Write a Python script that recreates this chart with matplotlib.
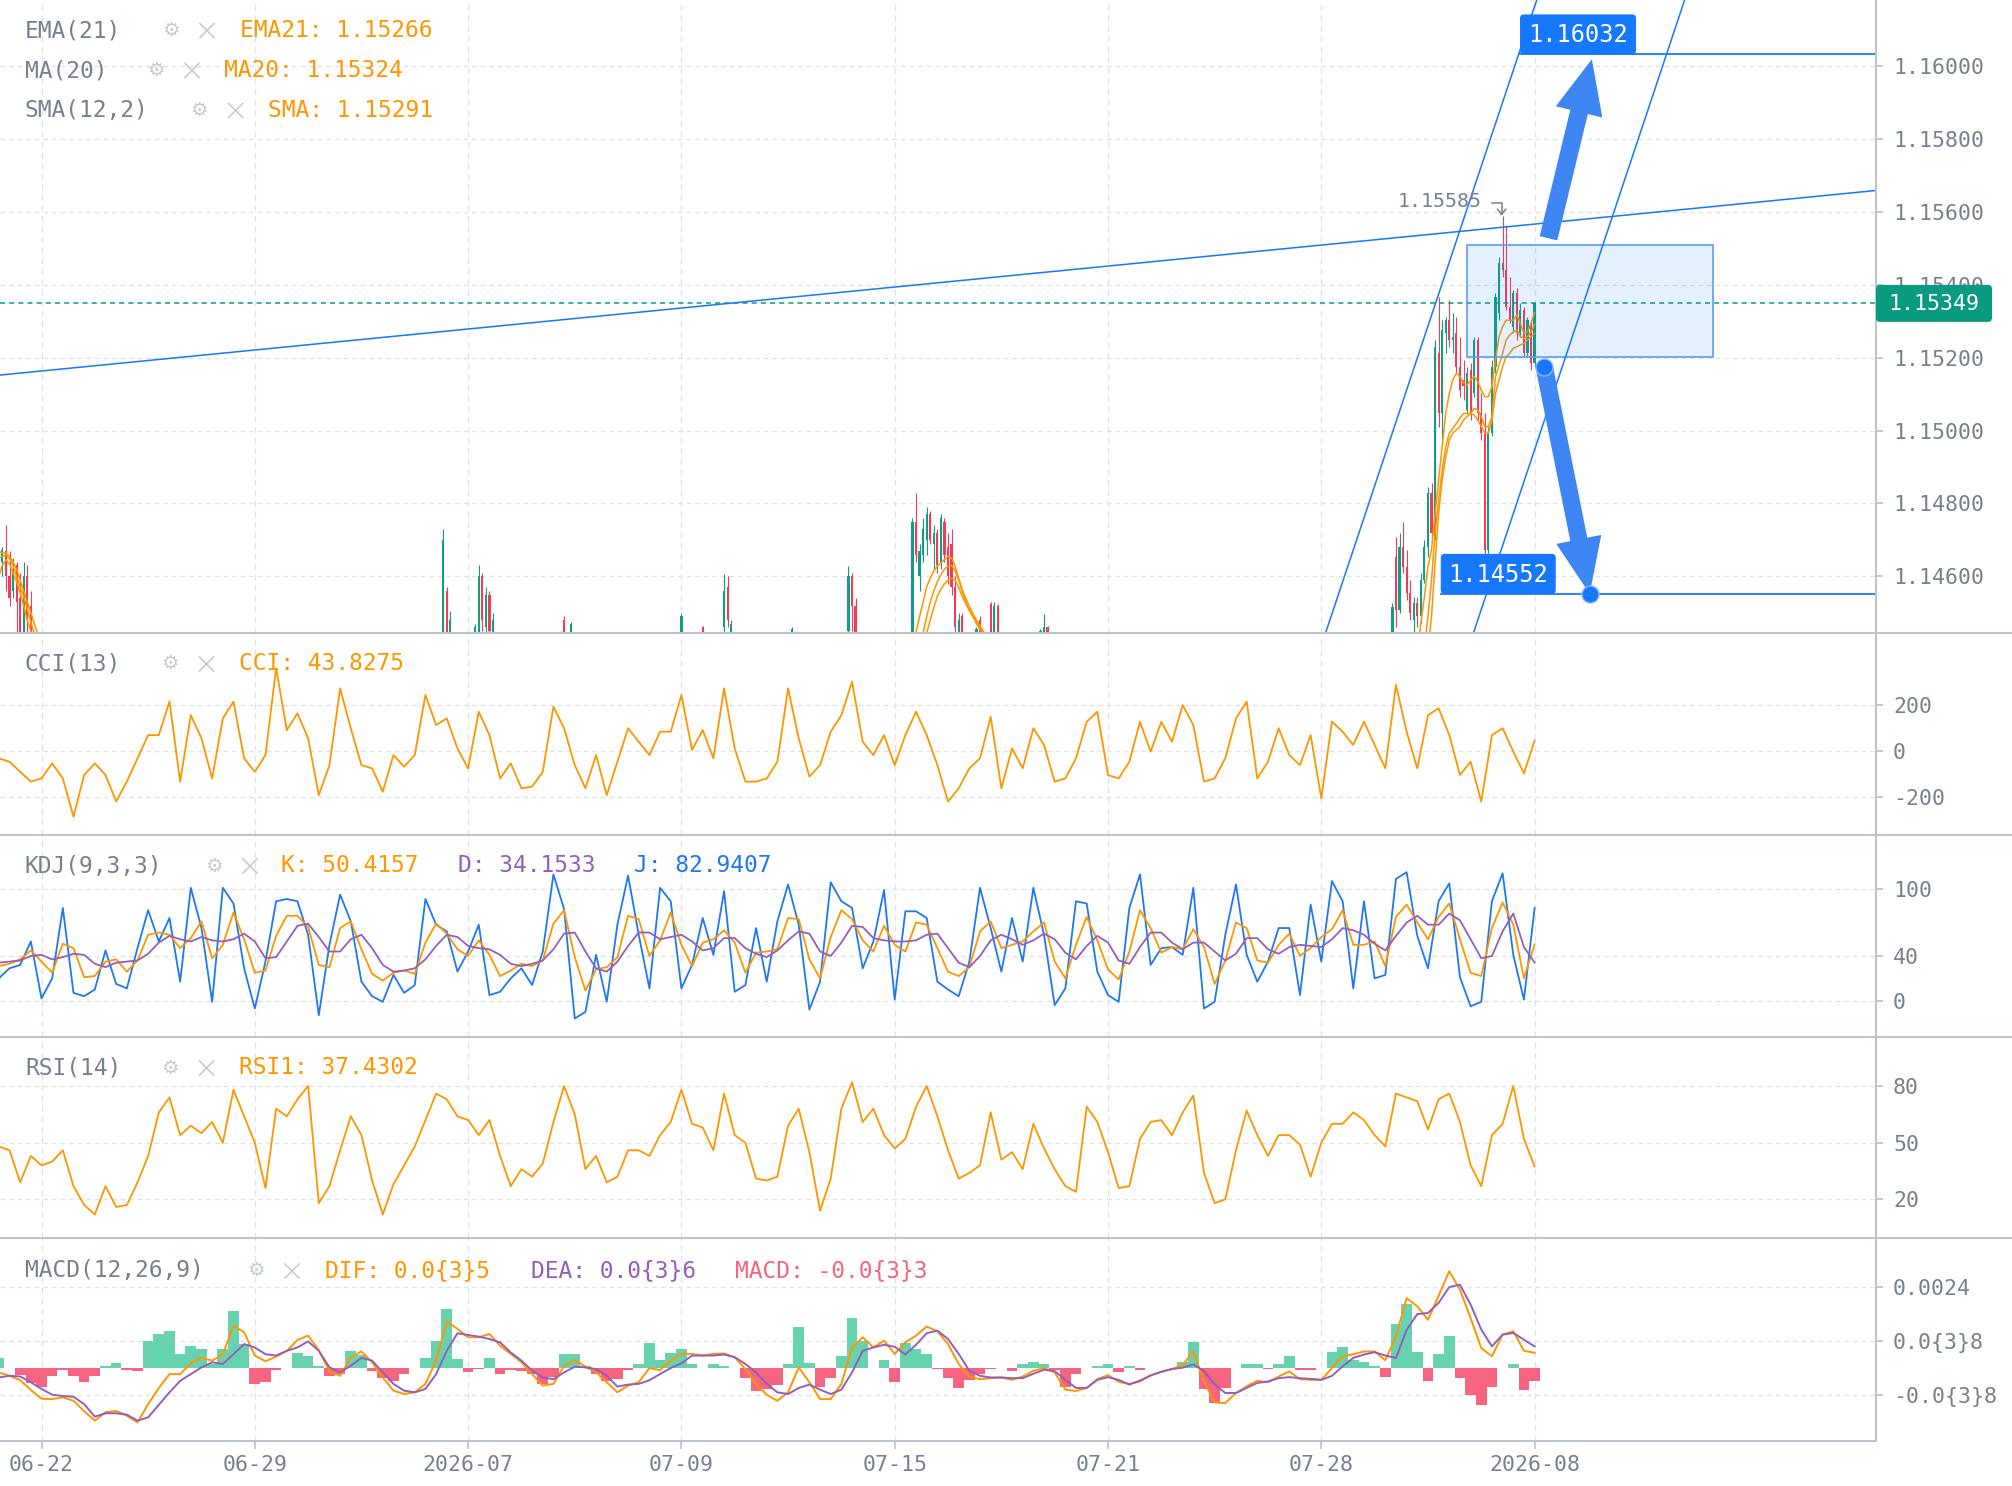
import numpy as np
import matplotlib
matplotlib.use("Agg")
import matplotlib.pyplot as plt
from matplotlib.patches import Rectangle, FancyBboxPatch, FancyArrowPatch, ArrowStyle
from matplotlib.lines import Line2D
from matplotlib.transforms import Affine2D

# ======================= DATA =======================
TICK_INDEX = [12, 72, 132, 192, 252, 312, 372, 432]
TICK_LABELS = ["06-22", "06-29", "2026-07", "07-09", "07-15", "07-21", "07-28", "2026-08"]

PRICE_TICKS = [1.146, 1.148, 1.150, 1.152, 1.154, 1.156, 1.158, 1.160]
CCI_TICKS, CCI_TICK_LABELS = [-200, 0, 200], ["-200", "0", "200"]
KDJ_TICKS, KDJ_TICK_LABELS = [0, 40, 100], ["0", "40", "100"]
RSI_TICKS, RSI_TICK_LABELS = [20, 50, 80], ["20", "50", "80"]
MACD_TICKS, MACD_TICK_LABELS = [-0.0008, 0.0008, 0.0024], ["-0.0{3}8", "0.0{3}8", "0.0024"]

# indicator readings, one value every 3rd bar (bar 0 .. bar 432)
SAMPLE_STEP = 3
CCI = [-33, -48, -92, -135, -121, -55, -121, -288, -106, -55,
       -106, -222, -135, -33, 68, 68, 215, -135, 155, 54,
       -121, 141, 214, -33, -92, -19, 360, 90, 163, 54,
       -194, -63, 272, 98, -63, -77, -179, -19, -70, -19,
       243, 112, 141, 10, -77, 170, 68, -121, -55, -164,
       -157, -92, 192, 98, -63, -164, -19, -194, -48, 98,
       39, -19, 83, 83, 243, 3, 90, -33, 272, 10,
       -135, -135, -121, -48,
       272, 54, -113, -63, 83, 155, 301, 39, -19, 68,
       -63, 68, 170, 68, -63, -222, -164, -77, -33, 148,
       -164, 10, -77, 98, 25, -135, -121, -33, 126, 170,
       -106, -121, -48, 126, -4, 126, 39, 199, 112, -135,
       -121, -33, 141, 214, -121, -48, 98, -19, -63, 68,
       -208, 127, 83, 25, 127, 25, -77, 287, 83, -77,
       155, 185, 68, -106, -48, -222, 68, 98, -4, -99,
       43.83]
K_VAL = [31, 33, 37, 45, 35, 25, 51, 47, 21, 22,
         35, 37, 26, 36, 59, 61, 59, 47, 56, 71,
         38, 50, 79, 55, 25, 27, 58, 76, 76, 66,
         32, 30, 65, 71, 46, 24, 18, 25, 27, 24,
         52, 69, 60, 46, 40, 54, 41, 22, 27, 33,
         31, 36, 69, 81, 39, 9, 28, 30, 39, 76,
         73, 40, 54, 79, 50, 31, 52, 55, 63, 52,
         25, 43, 44, 46,
         74, 73, 37, 20, 57, 81, 73, 54, 44, 67,
         50, 44, 70, 68, 47, 26, 22, 30, 62, 71,
         47, 50, 53, 62, 70, 35, 20, 50, 75, 54,
         28, 19, 44, 81, 65, 43, 48, 46, 64, 48,
         15, 36, 70, 65, 36, 34, 50, 60, 40, 47,
         57, 64, 81, 50, 50, 53, 31,
         75, 86, 70, 55, 75, 87, 55, 25, 22, 65, 88, 68, 20, 50.42]
D_VAL = [34, 35, 36, 40, 41, 37, 39, 42, 41, 33,
         30, 34, 35, 36, 42, 52, 58, 55, 53, 57,
         54, 53, 55, 60, 53, 38, 39, 53, 67, 69,
         57, 44, 44, 55, 59, 47, 32, 26, 27, 29,
         37, 49, 59, 57, 49, 47, 46, 41, 33, 31,
         33, 36, 46, 60, 61, 44, 29, 26, 35, 49,
         61, 61, 55, 57, 59, 53, 45, 47, 56, 56,
         47, 42, 39, 45,
         54, 62, 60, 44, 40, 52, 67, 66, 56, 54,
         53, 53, 54, 59, 60, 47, 34, 30, 40, 54,
         59, 55, 50, 54, 60, 55, 43, 37, 49, 58,
         52, 36, 33, 48, 61, 61, 52, 46, 52, 52,
         44, 36, 42, 56, 56, 46, 42, 48, 50, 49,
         48, 55, 65, 63, 59, 51, 45,
         58, 70, 76, 68, 68, 78, 72, 55, 38, 40, 62, 78, 48, 34.15]
J_VAL = [20, 29, 32, 53, 2, 20, 83, 7, 4, 10,
         45, 15, 11, 47, 81, 53, 74, 17, 101, 65,
         -1, 101, 87, 29, -7, 35, 89, 91, 89, 59,
         -13, 50, 95, 71, 17, 4, -1, 23, 7, 14,
         91, 68, 62, 26, 44, 68, 5, 8, 20, 29,
         14, 44, 113, 82, -16, -10, 41, -1, 68, 112,
         59, 11, 101, 89, 11, 32, 74, 41, 98, 8,
         14, 65, 17, 71,
         104, 68, -8, 17, 106, 89, 83, 29, 53, 99,
         1, 80, 80, 74, 17, 10, 4, 35, 101, 65,
         26, 74, 35, 101, 59, -4, 11, 89, 87, 26,
         5, -1, 83, 113, 32, 47, 48, 41, 101, -7,
         -1, 59, 104, 41, 17, 35, 65, 65, 5, 86,
         35, 107, 89, 11, 89, 20, 23,
         109, 115, 58, 29, 89, 105, 21, -5, -1, 89, 114, 41, 1, 82.94]
RSI = [48, 46, 29, 43, 38, 40, 46, 27, 17, 12,
       27, 16, 17, 29, 43, 66, 74, 54, 59, 55,
       61, 50, 78, 64, 50, 26, 68, 64, 73, 80,
       18, 27, 46, 64, 54, 30, 12, 28, 38, 48,
       62, 76, 73, 64, 62, 54, 62, 43, 27, 36,
       32, 39, 61, 80, 65, 36, 43, 29, 32, 46,
       46, 43, 54, 61, 78, 60, 58, 46, 76, 54,
       50, 31, 30, 32,
       59, 68, 45, 14, 31, 68, 82, 61, 68, 54,
       47, 52, 69, 80, 64, 46, 31, 34, 38, 66,
       41, 45, 36, 60, 47, 36, 27, 24, 69, 61,
       45, 26, 27, 52, 61, 62, 54, 66, 75, 34,
       18, 20, 46, 67, 54, 43, 54, 54, 49, 32,
       50, 60, 60, 66, 62, 54, 48, 76, 74, 72,
       57, 73, 76, 61, 38, 27, 54, 60, 80, 52,
       37.43]
MACD_UNIT = 1e-4   # DIF / DEA below are in units of 0.0001
DIF = [-1.4, -2.4, -3.7, -6.6, -9.2, -9.3, -8.8, -9.8, -12.9, -15.7,
       -13.2, -12.8, -14.2, -16.2, -10.8, -6.0, -1.9, -1.9, 1.3, 2.9,
       2.1, 3.9, 12.4, 10.5, 3.6, 1.9, 3.3, 5.0, 8.2, 9.5,
       5.2, -1.1, -2.4, 3.1, 4.8, 1.6, -2.9, -6.8, -7.8, -7.3,
       -4.8, 2.1, 13.7, 11.5, 9.0, 9.0, 10.0, 6.5, 4.1, 1.6,
       -1.9, -5.3, -4.8, 0.6, 2.3, 0.3, -1.4, -4.3, -7.3, -5.3,
       -4.3, -0.1, -0.7, 2.1, 4.1, 4.1, 3.6, 4.1, 4.2, 3.1,
       -0.4, -4.8, -8.0, -9.8, -7.3, 0.1, -4.3, -9.3, -9.3, -4.8,
       6.0, 9.0, 6.0, 8.0, 4.1, 7.5, 9.5, 12.2, 10.8, 7.0,
       1.1, -2.7, -3.4, -3.1, -2.9,
       -3.6, -2.6, -0.9, -0.1, -1.4, -6.5, -6.9, -6.0, -3.4, -2.2,
       -4.2, -4.8, -4.1, -2.3, -1.2, -0.4, 0.8, 4.8, -4.1, -10.3,
       -10.5, -7.5, -5.5, -3.9, -4.3, -2.6, -1.1, -3.4, -3.6, -3.6,
       -0.1, 3.4, 4.0, 4.8, 4.8, 2.2, 9.3, 20.6, 18.2, 14.2,
       21.3, 28.6, 23.1, 14.7, 5.8, 3.4, 9.8, 10.8, 5.0, 4.4]
DEA = [-2.9, -2.4, -2.6, -4.3, -6.3, -8.0, -8.4, -8.6, -10.8, -14.5,
       -13.5, -13.5, -13.9, -15.7, -14.7, -11.0, -7.3, -3.9, -1.9, 0.1,
       1.6, 1.1, 4.0, 7.0, 6.0, 4.0, 3.6, 5.0, 6.0, 7.8,
       5.0, 0.1, -1.4, 0.6, 2.9, 2.1, -1.4, -4.8, -6.8, -7.3,
       -6.3, -1.9, 5.0, 10.2, 9.7, 9.2, 8.5, 7.5, 4.5, 2.1,
       -0.9, -2.9, -3.4, -1.4, 0.3, 0.1, -0.4, -2.4, -5.6, -5.0,
       -4.8, -3.7, -1.9, -0.1, 1.3, 3.6, 3.6, 3.6, 3.9, 3.1,
       1.1, -1.4, -4.8, -7.3, -7.8, -6.0, -5.0, -6.5, -7.8, -6.5,
       -1.4, 5.0, 6.0, 6.8, 6.2, 3.9, 6.8, 10.2, 11.0, 8.5,
       4.1, -0.9, -2.4, -2.9, -2.9,
       -3.1, -3.1, -1.8, -0.6, -1.0, -3.6, -6.0, -6.0, -3.6, -2.8,
       -3.6, -5.0, -3.8, -2.3, -1.2, -0.4, 0.0, 1.0, -1.0, -5.0,
       -7.5, -7.5, -6.0, -4.5, -4.1, -3.1, -2.8, -3.1, -3.3, -3.6,
       -2.4, 0.4, 2.9, 3.9, 4.6, 3.6, 2.9, 11.2, 15.9, 16.2,
       19.2, 23.9, 24.6, 18.7, 11.3, 6.3, 9.8, 10.3, 8.3, 6.3]

# visible candles (all others sit below the visible price range)
CANDLE_INDEX = [0, 1, 2, 3, 4, 5, 6, 7, 8, 9, 10,
                125, 126, 127, 134, 135, 136, 137, 138, 139, 158, 159, 161,
                192, 198, 204, 205, 206, 223, 239, 240, 241,
                257, 258, 259, 260, 261, 262, 263, 264, 265, 266, 267, 268, 269, 270, 271,
                275, 276, 279, 280, 281, 293, 294, 295,
                392, 393, 394, 395, 396, 397, 398, 399, 400, 401, 402, 403, 404, 405, 406, 407,
                408, 409, 410, 411, 412, 413, 414, 415, 416, 417, 418, 419, 420, 421, 422, 423,
                424, 425, 426, 427, 428, 429, 430, 431, 432]
OPEN = [1.14672, 1.14640, 1.14670, 1.14600, 1.14560, 1.14630, 1.14540, 1.14420, 1.14600, 1.14520, 1.14420,
        1.14400, 1.14560, 1.14420, 1.14410, 1.14440, 1.14600, 1.14460, 1.14550, 1.14420, 1.14440, 1.14480, 1.14440,
        1.14440, 1.14460, 1.14460, 1.14570, 1.14440, 1.14440, 1.14450, 1.14600, 1.14520,
        1.14440, 1.14750, 1.14600, 1.14660, 1.14700, 1.14770, 1.14690, 1.14720, 1.14640, 1.14750, 1.14680, 1.14690, 1.14570, 1.14430, 1.14490,
        1.14440, 1.14480, 1.14524, 1.14440, 1.14520, 1.14440, 1.14445, 1.14460,
        1.14389, 1.14654, 1.14508, 1.14682, 1.14627, 1.14554, 1.14480, 1.14526, 1.14490, 1.14590, 1.14682, 1.14828, 1.14709, 1.15212, 1.15047, 1.15267,
        1.15303, 1.15249, 1.15267, 1.15175, 1.15139, 1.15057, 1.15166, 1.15102, 1.15249, 1.15047, 1.14993, 1.14672, 1.14993, 1.15175, 1.15322, 1.15459,
        1.15441, 1.15340, 1.15285, 1.15377, 1.15267, 1.15331, 1.15212, 1.15294, 1.15185]
HIGH = [1.14690, 1.14680, 1.14740, 1.14670, 1.14650, 1.14640, 1.14610, 1.14640, 1.14630, 1.14560, 1.14450,
        1.14730, 1.14570, 1.14505, 1.14470, 1.14630, 1.14610, 1.14570, 1.14560, 1.14500, 1.14450, 1.14490, 1.14475,
        1.14500, 1.14465, 1.14607, 1.14600, 1.14480, 1.14460, 1.14629, 1.14610, 1.14540,
        1.14760, 1.14829, 1.14690, 1.14760, 1.14790, 1.14780, 1.14740, 1.14730, 1.14770, 1.14760, 1.14720, 1.14730, 1.14600, 1.14500, 1.14500,
        1.14460, 1.14490, 1.14530, 1.14530, 1.14525, 1.14455, 1.14497, 1.14465,
        1.14526, 1.14709, 1.14718, 1.14750, 1.14673, 1.14590, 1.14544, 1.14544, 1.14608, 1.14700, 1.14846, 1.14855, 1.15249, 1.15367, 1.15303, 1.15313,
        1.15358, 1.15322, 1.15313, 1.15258, 1.15194, 1.15175, 1.15185, 1.15258, 1.15258, 1.15102, 1.15047, 1.15011, 1.15194, 1.15378, 1.15477, 1.15589,
        1.15560, 1.15422, 1.15386, 1.15390, 1.15349, 1.15340, 1.15313, 1.15303, 1.15349]
LOW = [1.14580, 1.14600, 1.14560, 1.14520, 1.14540, 1.14430, 1.14400, 1.14400, 1.14400, 1.14400, 1.14380,
       1.14380, 1.14400, 1.14400, 1.14400, 1.14420, 1.14450, 1.14420, 1.14430, 1.14400, 1.14420, 1.14430, 1.14430,
       1.14420, 1.14440, 1.14420, 1.14460, 1.14420, 1.14430, 1.14430, 1.14450, 1.14420,
       1.14420, 1.14640, 1.14560, 1.14640, 1.14660, 1.14690, 1.14620, 1.14610, 1.14620, 1.14640, 1.14580, 1.14550, 1.14440, 1.14420, 1.14420,
       1.14430, 1.14430, 1.14420, 1.14430, 1.14430, 1.14430, 1.14430, 1.14440,
       1.14389, 1.14462, 1.14499, 1.14608, 1.14535, 1.14480, 1.14444, 1.14462, 1.14471, 1.14581, 1.14654, 1.14691, 1.14700, 1.15011, 1.14974, 1.15212,
       1.15230, 1.15212, 1.15157, 1.15093, 1.15084, 1.15047, 1.15029, 1.15093, 1.15029, 1.14974, 1.14654, 1.14654, 1.14984, 1.15157, 1.15303, 1.15422,
       1.15331, 1.15294, 1.15267, 1.15249, 1.15258, 1.15203, 1.15203, 1.15166, 1.15175]
CLOSE = [1.14600, 1.14672, 1.14600, 1.14540, 1.14620, 1.14530, 1.14420, 1.14600, 1.14480, 1.14410, 1.14390,
         1.14700, 1.14420, 1.14480, 1.14460, 1.14600, 1.14480, 1.14550, 1.14450, 1.14480, 1.14445, 1.14440, 1.14470,
         1.14490, 1.14445, 1.14560, 1.14480, 1.14470, 1.14455, 1.14600, 1.14520, 1.14440,
         1.14750, 1.14660, 1.14670, 1.14730, 1.14770, 1.14700, 1.14720, 1.14630, 1.14760, 1.14660, 1.14600, 1.14570, 1.14460, 1.14480, 1.14440,
         1.14455, 1.14440, 1.14440, 1.14520, 1.14440, 1.14450, 1.14460, 1.14445,
         1.14517, 1.14508, 1.14682, 1.14627, 1.14554, 1.14499, 1.14526, 1.14490, 1.14590, 1.14682, 1.14828, 1.14718, 1.15230, 1.15047, 1.15276, 1.15303,
         1.15249, 1.15258, 1.15175, 1.15111, 1.15121, 1.15157, 1.15047, 1.15249, 1.15047, 1.14993, 1.14672, 1.14993, 1.15175, 1.15367, 1.15459, 1.15441,
         1.15340, 1.15303, 1.15377, 1.15267, 1.15331, 1.15212, 1.15303, 1.15185, 1.15349]

# moving averages, visible segments only: (first bar index, values)
MA20_SEGMENTS = [
    (0, [1.14668, 1.14665, 1.14665, 1.14655, 1.14640, 1.14620, 1.14590, 1.14560, 1.14530, 1.14500, 1.14470, 1.14440, 1.14410]),
    (257, [1.14400, 1.14445, 1.14490, 1.14530, 1.14572, 1.14595, 1.14615, 1.14628, 1.14637, 1.14646, 1.14655,
           1.14650, 1.14628, 1.14595, 1.14563, 1.14540, 1.14517, 1.14498, 1.14480, 1.14465, 1.14448, 1.14425]),
    (399, [1.14389, 1.14471, 1.14544, 1.14627, 1.14672, 1.14773, 1.14865, 1.14956, 1.15047, 1.15102, 1.15139,
           1.15157, 1.15148, 1.15130, 1.15125, 1.15139, 1.15148, 1.15134, 1.15111, 1.15093, 1.15093, 1.15121,
           1.15194, 1.15258, 1.15285, 1.15303, 1.15303, 1.15303, 1.15317, 1.15294, 1.15267, 1.15271, 1.15294, 1.15324]),
]
SMA_SEGMENTS = [
    (0, [1.14650, 1.14655, 1.14660, 1.14648, 1.14630, 1.14600, 1.14570, 1.14545, 1.14510, 1.14475, 1.14440, 1.14410]),
    (259, [1.14420, 1.14445, 1.14490, 1.14530, 1.14560, 1.14585, 1.14605, 1.14620, 1.14628, 1.14630,
           1.14615, 1.14590, 1.14560, 1.14530, 1.14505, 1.14490, 1.14475, 1.14460, 1.14445, 1.14430]),
    (401, [1.14407, 1.14490, 1.14590, 1.14718, 1.14810, 1.14892, 1.14956, 1.14993, 1.15006, 1.15020, 1.15034,
           1.15047, 1.15047, 1.15047, 1.15061, 1.15057, 1.15038, 1.15011, 1.15011, 1.15038, 1.15148, 1.15180,
           1.15212, 1.15249, 1.15262, 1.15271, 1.15276, 1.15258, 1.15253, 1.15258, 1.15271, 1.15291]),
]
EMA_SEGMENTS = [
    (0, [1.14600, 1.14630, 1.14645, 1.14635, 1.14610, 1.14585, 1.14555, 1.14520, 1.14480, 1.14450, 1.14420]),
    (260, [1.14420, 1.14445, 1.14480, 1.14515, 1.14545, 1.14565, 1.14580, 1.14590, 1.14595,
           1.14590, 1.14570, 1.14545, 1.14525, 1.14508, 1.14490, 1.14470, 1.14455, 1.14440]),
    (402, [1.14407, 1.14490, 1.14636, 1.14773, 1.14865, 1.14928, 1.14974, 1.14993, 1.15002, 1.15011, 1.15029,
           1.15038, 1.15047, 1.15043, 1.15029, 1.15011, 1.14993, 1.14993, 1.15029, 1.15102, 1.15139, 1.15175,
           1.15203, 1.15212, 1.15226, 1.15230, 1.15235, 1.15239, 1.15249, 1.15258, 1.15266]),
]

LAST_PRICE = 1.15349
HIGH_INDEX, HIGH_PRICE = 423, 1.15585
# drawings (bar index, price)
CHANNEL_LEFT = [(373.2, 1.144447), (432.6, 1.161813)]
CHANNEL_RIGHT = [(449.8, 1.154680), (474.2, 1.161813)]
TREND_LINE = [(388.5, 1.155248), (512.3, 1.156436)]
ZONE = (412.95, 482.2, 1.152011, 1.155092)
TARGET_UP = (427.9, 1.16032)
TARGET_DOWN = (405.6, 1.14552)
ARROW_UP = [(435.9, 1.155276), (448.1, 1.160187)]
ARROW_DOWN = [(434.7, 1.151753), (447.5, 1.14552)]

# ======================= STYLE / LAYOUT =======================
W, H, DPI = 2012, 1486, 100
AXIS_X = 1876
TEXT_C, ICON_C, GRID_C, AXIS_C = "#76808F", "#C5CBD5", "#DFE2E7", "#BEC4CE"
ORANGE, PURPLE, JBLUE, PINK = "#FF9600", "#935EBD", "#1E78F0", "#F5657F"
UP_C, DOWN_C = "#109E82", "#F23B56"
HIST_UP, HIST_DN = "#67D3AE", "#F66480"
BLUE, ARROW_C, PRICE_BG = "#1677FF", "#3F86F5", "#0A9A80"

plt.rcParams["font.family"] = ["DejaVu Sans Mono", "DejaVu Sans"]
fig = plt.figure(figsize=(W / DPI, H / DPI), dpi=DPI)
fig.patch.set_facecolor("white")
PX = Affine2D().scale(1.0 / W, -1.0 / H).translate(0, 1) + fig.transFigure

XMIN = 12 - 41.5 / 3.555
XMAX = 12 + (AXIS_X - 41.5) / 3.555


def make_panel(y0, y1, ylim, yticks, ylabels):
    ax = fig.add_axes([0, 1 - y1 / H, AXIS_X / W, (y1 - y0) / H])
    ax.set_xlim(XMIN, XMAX)
    ax.set_ylim(*ylim)
    ax.set_facecolor("none")
    for s in ax.spines.values():
        s.set_visible(False)
    ax.set_xticks([])
    ax.yaxis.tick_right()
    ax.set_yticks(yticks)
    ax.set_yticklabels(ylabels)
    ax.tick_params(axis="y", length=5, width=1.3, color=AXIS_C, labelcolor=TEXT_C,
                   labelsize=15.5, pad=7.2)
    for v in yticks:
        ax.axhline(v, color=GRID_C, lw=0.95, ls=(0, (3.5, 3)), zorder=0.5)
    for t in TICK_INDEX:
        ax.axvline(t, color=GRID_C, lw=0.95, ls=(0, (4.5, 3.5)), zorder=0.5)
    return ax


ax_main = make_panel(0, 633, (1.144447, 1.161813), PRICE_TICKS, [f"{v:.5f}" for v in PRICE_TICKS])
ax_cci = make_panel(633, 835, (-367.8, 513.6), CCI_TICKS, CCI_TICK_LABELS)
ax_kdj = make_panel(835, 1037, (-32.5, 148.3), KDJ_TICKS, KDJ_TICK_LABELS)
ax_rsi = make_panel(1037, 1238, (-0.45, 105.96), RSI_TICKS, RSI_TICK_LABELS)
ax_macd = make_panel(1238, 1441, (-0.002172, 0.003843), MACD_TICKS, MACD_TICK_LABELS)

# ---------------- candles ----------------
o, h, l, c = map(np.array, (OPEN, HIGH, LOW, CLOSE))
cidx = np.array(CANDLE_INDEX)
ccol = [UP_C if cc >= oo else DOWN_C for oo, cc in zip(o, c)]
ax_main.vlines(cidx, l, h, colors=ccol, lw=0.8, zorder=2)
body_lo = np.minimum(o, c)
body_h = np.maximum(np.abs(c - o), 0.000015)
ax_main.bar(cidx, body_h, bottom=body_lo, width=0.62, color=ccol, linewidth=0, zorder=2.1)

for segs in (MA20_SEGMENTS, SMA_SEGMENTS, EMA_SEGMENTS):
    for start, vals in segs:
        ax_main.plot(np.arange(start, start + len(vals)), vals, color=ORANGE, lw=1.1, zorder=3)

# ---------------- drawings ----------------
ax_main.axhline(LAST_PRICE, color=PRICE_BG, lw=1.1, ls=(0, (3.3, 2.7)), zorder=3.5)
ax_main.add_patch(Rectangle((ZONE[0], ZONE[2]), ZONE[1] - ZONE[0], ZONE[3] - ZONE[2],
                            facecolor=(0.086, 0.467, 1.0, 0.11), edgecolor="#5E9BF6", lw=1.2, zorder=4))
for p1, p2 in (CHANNEL_LEFT, CHANNEL_RIGHT, TREND_LINE):
    ax_main.axline(p1, p2, color=BLUE, lw=1.1, zorder=4)
ax_main.plot([TARGET_UP[0], XMAX], [TARGET_UP[1]] * 2, color=BLUE, lw=1.3, zorder=4)
ax_main.plot([TARGET_DOWN[0], XMAX], [TARGET_DOWN[1]] * 2, color=BLUE, lw=1.3, zorder=4)
ax_main.add_patch(FancyArrowPatch(ARROW_UP[0], ARROW_UP[1], mutation_scale=1, shrinkA=0, shrinkB=0,
                                  arrowstyle=ArrowStyle.Simple(head_length=39, head_width=34.5, tail_width=13),
                                  color=ARROW_C, lw=0, zorder=5))
ax_main.add_patch(FancyArrowPatch(ARROW_DOWN[0], ARROW_DOWN[1], mutation_scale=1, shrinkA=0, shrinkB=0,
                                  arrowstyle=ArrowStyle.Simple(head_length=40, head_width=33, tail_width=12.5),
                                  color=ARROW_C, lw=0, zorder=5))
ax_main.scatter([p[0] for p in ARROW_DOWN], [p[1] for p in ARROW_DOWN], s=150, color=BLUE,
                edgecolors="#8DB8FA", linewidths=1.0, zorder=6)

# ---------------- indicators ----------------
ix = np.arange(len(CCI)) * SAMPLE_STEP
ax_cci.plot(ix, CCI, color=ORANGE, lw=1.3)
ax_kdj.plot(ix, K_VAL, color=ORANGE, lw=1.3, zorder=3)
ax_kdj.plot(ix, D_VAL, color=PURPLE, lw=1.3, zorder=3)
ax_kdj.plot(ix, J_VAL, color=JBLUE, lw=1.3, zorder=2.9)
ax_rsi.plot(ix, RSI, color=ORANGE, lw=1.3)
dif = np.array(DIF) * MACD_UNIT
dea = np.array(DEA) * MACD_UNIT
hist = 2 * (dif - dea)
ax_macd.bar(ix, hist, width=3.0, color=[HIST_UP if v >= 0 else HIST_DN for v in hist], linewidth=0, zorder=2)
ax_macd.plot(ix, dif, color=ORANGE, lw=1.4, zorder=3)
ax_macd.plot(ix, dea, color=PURPLE, lw=1.4, zorder=3)


# ---------------- pixel helpers ----------------
def to_px(ax, i, p):
    X, Y = ax.transData.transform((i, p))
    return X, H - Y


def box_label(x0, y0, w, hgt, text, fc, fs):
    fig.add_artist(FancyBboxPatch((x0, y0), w, hgt, boxstyle="round,pad=0,rounding_size=4",
                                  transform=PX, fc=fc, ec="none", zorder=8))
    fig.text((x0 + w / 2) / W, 1 - (y0 + hgt / 2 + 1) / H, text, ha="center", va="center",
             color="white", fontsize=fs, zorder=9)


def hline_px(x0, x1, y, lw=1.44):
    fig.add_artist(Line2D([x0, x1], [y, y], transform=PX, color=AXIS_C, lw=lw, zorder=7))


# axes frame lines
fig.add_artist(Line2D([AXIS_X, AXIS_X], [0, 1441], transform=PX, color=AXIS_C, lw=1.44, zorder=7))
for yy in (633, 835, 1037, 1238):
    hline_px(0, W, yy)
hline_px(0, AXIS_X, 1441)

# x axis ticks / labels
for t, lab in zip(TICK_INDEX, TICK_LABELS):
    xp, _ = to_px(ax_macd, t, 0)
    fig.add_artist(Line2D([xp, xp], [1441, 1448], transform=PX, color=AXIS_C, lw=1.3, zorder=7))
    fig.text(xp / W, 1 - 1465 / H, lab, ha="center", va="center", color=TEXT_C, fontsize=15.5)

# price labels
x_up, y_up = to_px(ax_main, TARGET_UP[0], TARGET_UP[1])
box_label(x_up, y_up - 40, 116, 40, f"{TARGET_UP[1]:.5f}", BLUE, 17)
x_dn, y_dn = to_px(ax_main, TARGET_DOWN[0], TARGET_DOWN[1])
box_label(x_dn, y_dn - 40, 115, 40, f"{TARGET_DOWN[1]:.5f}", BLUE, 17)
_, y_last = to_px(ax_main, 0, LAST_PRICE)
box_label(AXIS_X, y_last - 18.5, 116, 37, f"{LAST_PRICE:.5f}", PRICE_BG, 15.5)

# high marker
hx, hy = to_px(ax_main, HIGH_INDEX, HIGH_PRICE)
fig.text((hx - 21) / W, 1 - (hy - 16) / H, f"{HIGH_PRICE:.5f}", ha="right", va="center",
         color=TEXT_C, fontsize=14.4)
ax_x = hx - 1
fig.add_artist(Line2D([ax_x - 10, ax_x, ax_x], [hy - 14, hy - 14, hy - 3], transform=PX,
                      color=TEXT_C, lw=1.1, zorder=7))
fig.add_artist(Line2D([ax_x - 4, ax_x, ax_x + 4], [hy - 8, hy - 3, hy - 8], transform=PX,
                      color=TEXT_C, lw=1.1, zorder=7))


# ---------------- legends ----------------
def legend_row(y, name, gear_x, x_x, values):
    fig.text(25 / W, 1 - y / H, name, color=TEXT_C, fontsize=16.5, va="center", ha="left")
    fig.text(gear_x / W, 1 - y / H, "\u2699", color=ICON_C, fontsize=14, va="center", ha="center",
             family="DejaVu Sans")
    d = 7
    fig.add_artist(Line2D([x_x - d, x_x + d], [y - d, y + d], transform=PX, color=ICON_C, lw=1.2))
    fig.add_artist(Line2D([x_x - d, x_x + d], [y + d, y - d], transform=PX, color=ICON_C, lw=1.2))
    for txt, x, col in values:
        fig.text(x / W, 1 - y / H, txt, color=col, fontsize=16.5, va="center", ha="left")


legend_row(30.5, "EMA(21)", 170.5, 207, [("EMA21: 1.15266", 239.5, ORANGE)])
legend_row(70.5, "MA(20)", 156, 192, [("MA20: 1.15324", 224, ORANGE)])
legend_row(110.5, "SMA(12,2)", 199, 235.6, [("SMA: 1.15291", 268, ORANGE)])
legend_row(664, "CCI(13)", 170, 206.5, [("CCI: 43.8275", 238.8, ORANGE)])
legend_row(866, "KDJ(9,3,3)", 214, 250, [("K: 50.4157", 281, ORANGE), ("D: 34.1533", 457.7, PURPLE),
                                        ("J: 82.9407", 634, JBLUE)])
legend_row(1068, "RSI(14)", 170, 206.5, [("RSI1: 37.4302", 238.8, ORANGE)])
legend_row(1271, "MACD(12,26,9)", 256, 292, [("DIF: 0.0{3}5", 325, ORANGE), ("DEA: 0.0{3}6", 530.6, PURPLE),
                                            ("MACD: -0.0{3}3", 734.7, PINK)])

fig.savefig("out.png", dpi=DPI, facecolor="white")
